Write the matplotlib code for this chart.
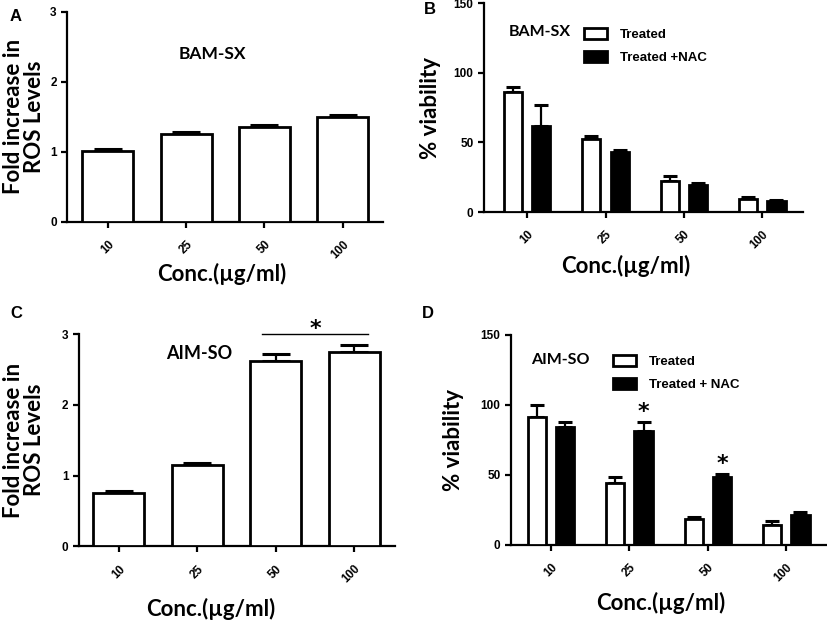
import matplotlib
matplotlib.use('Agg')
import matplotlib.pyplot as plt
import numpy as np
from matplotlib.patches import Patch

# data
conc = ['10', '25', '50', '100']

ros_bam = [1.01, 1.25, 1.36, 1.50]
ros_bam_err = [0.03, 0.03, 0.025, 0.025]

viab_bam_treated = [86.0, 52.4, 22.5, 9.3]
viab_bam_treated_err = [3.5, 1.9, 3.1, 1.5]
viab_bam_nac = [61.5, 42.8, 19.4, 7.7]
viab_bam_nac_err = [15.5, 1.5, 1.4, 1.2]

ros_aim = [0.75, 1.15, 2.62, 2.75]
ros_aim_err = [0.03, 0.025, 0.10, 0.09]

viab_aim_treated = [91.2, 44.5, 18.6, 14.0]
viab_aim_treated_err = [8.8, 4.3, 1.4, 2.9]
viab_aim_nac = [84.5, 81.7, 48.6, 21.4]
viab_aim_nac_err = [3.4, 5.9, 1.9, 2.4]

label_font = 'Lato'
tick_font = 'Liberation Sans'
LW = 1.6


def style_axes(ax, yticks):
    for side in ['top', 'right']:
        ax.spines[side].set_visible(False)
    for side in ['left', 'bottom']:
        ax.spines[side].set_linewidth(LW)
    ax.set_ylim(0, yticks[-1])
    ax.set_yticks(yticks)
    ax.set_xticks(np.arange(len(conc)))
    ax.set_xticklabels(conc, rotation=45, ha='right', rotation_mode='anchor')
    ax.tick_params(width=LW, length=4, direction='out')
    ax.tick_params(axis='x', pad=8)
    for lab in ax.get_xticklabels() + ax.get_yticklabels():
        lab.set_fontfamily(tick_font)
        lab.set_fontweight('bold')
        lab.set_fontsize(8.5)


def bars(ax, x, vals, errs, width, color, capsize):
    ax.errorbar(x, vals, yerr=[np.zeros(len(vals)), errs], fmt='none',
                ecolor='black', elinewidth=LW, capsize=capsize, capthick=2.2, zorder=2)
    ax.bar(x, vals, width=width, color=color, edgecolor='black',
           linewidth=2.0, zorder=3)


fig = plt.figure(figsize=(8.28, 6.2), dpi=100)

axA = fig.add_axes([0.081, 0.642, 0.382, 0.339])
axB = fig.add_axes([0.5845, 0.658, 0.3855, 0.337])
axC = fig.add_axes([0.0954, 0.119, 0.3816, 0.342])
axD = fig.add_axes([0.617, 0.121, 0.382, 0.339])

x = np.arange(len(conc))

# A
bars(axA, x, ros_bam, ros_bam_err, 0.65, 'white', 10)
style_axes(axA, [0, 1, 2, 3])
axA.set_xlim(-0.52, 3.52)
axA.text(0.46, 0.80, 'BAM-SX', transform=axA.transAxes, fontfamily=label_font,
         fontweight='bold', fontsize=12.5, ha='center', va='center')

# B
bars(axB, x - 0.18, viab_bam_treated, viab_bam_treated_err, 0.23, 'white', 5)
bars(axB, x + 0.18, viab_bam_nac, viab_bam_nac_err, 0.23, 'black', 5)
style_axes(axB, [0, 50, 100, 150])
axB.set_xlim(-0.55, 3.52)
axB.text(0.176, 0.86, 'BAM-SX', transform=axB.transAxes, fontfamily=label_font,
         fontweight='bold', fontsize=11.5, ha='center', va='center')

# C
bars(axC, x, ros_aim, ros_aim_err, 0.65, 'white', 10)
style_axes(axC, [0, 1, 2, 3])
axC.set_xlim(-0.51, 3.52)
axC.plot([1.83, 3.17], [3.0, 3.0], color='black', lw=1, clip_on=False)
axC.text(2.5, 3.07, '*', fontsize=16, fontweight='bold', ha='center', va='center')
axC.text(0.38, 0.91, 'AIM-SO', transform=axC.transAxes, fontfamily=label_font,
         fontweight='bold', fontsize=13, ha='center', va='center')

# D
bars(axD, x - 0.18, viab_aim_treated, viab_aim_treated_err, 0.23, 'white', 5)
bars(axD, x + 0.18, viab_aim_nac, viab_aim_nac_err, 0.23, 'black', 5)
style_axes(axD, [0, 50, 100, 150])
axD.set_xlim(-0.51, 3.52)
for i in [1, 2]:
    top = viab_aim_nac[i] + viab_aim_nac_err[i]
    axD.text(x[i] + 0.18, top, '*', fontsize=16, fontweight='bold',
             ha='center', va='bottom')
axD.text(0.155, 0.88, 'AIM-SO', transform=axD.transAxes, fontfamily=label_font,
         fontweight='bold', fontsize=11.5, ha='center', va='center')

# legends
for ax, nac_label, anchor in [(axB, 'Treated +NAC', (0.313, 0.88)),
                               (axD, 'Treated + NAC', (0.323, 0.905))]:
    handles = [Patch(facecolor='white', edgecolor='black', linewidth=2.0, label='Treated'),
               Patch(facecolor='black', edgecolor='black', linewidth=2.0, label=nac_label)]
    ax.legend(handles=handles, loc='upper left', bbox_to_anchor=anchor, frameon=False,
              borderpad=0, borderaxespad=0,
              handlelength=1.75, handleheight=0.9, labelspacing=0.75, handletextpad=1.0,
              prop={'family': tick_font, 'weight': 'bold', 'size': 9.5})

# axis labels
for ax, ylab, ycoord in [(axA, 'Fold increase in\nROS Levels', -0.07),
                         (axB, '% viability', -0.135),
                         (axC, 'Fold increase in\nROS Levels', -0.108),
                         (axD, '% viability', -0.149)]:
    ax.set_ylabel(ylab, fontfamily=label_font, fontweight='bold', fontsize=16,
                  linespacing=1.0)
    ax.yaxis.set_label_coords(ycoord, 0.5)

for ax, xc, yc in [(axA, 0.49, -0.195), (axB, 0.445, -0.206),
                   (axC, 0.418, -0.245), (axD, 0.475, -0.224)]:
    ax.set_xlabel('Conc.(\u00b5g/ml)', fontfamily=label_font, fontweight='bold',
                  fontsize=16)
    ax.xaxis.set_label_coords(xc, yc)

# panel letters
for letter, px, py in [('A', 0.012, 0.985), ('B', 0.512, 0.997),
                       ('C', 0.012, 0.507), ('D', 0.51, 0.507)]:
    fig.text(px, py, letter, fontfamily=tick_font, fontweight='bold', fontsize=12,
             ha='left', va='top')

fig.savefig('out.png', dpi=100)
